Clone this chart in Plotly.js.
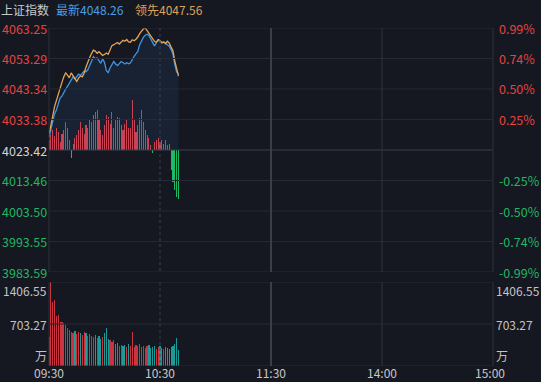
<!DOCTYPE html>
<html><head><meta charset="utf-8">
<script src="https://cdn.plot.ly/plotly-3.0.1.min.js"></script>
<style>html,body{margin:0;padding:0;background:#151821;}#c{width:541px;height:382px;}</style>
</head><body><div id="c"></div>
<script>
const prevClose = 4023.42;
const latestLabel = '最新4048.26';
const leadLabel = '领先4047.56';
const indexName = '上证指数';
const timeTicks = [0, 60, 120, 180, 240];
const timeLabels = ['09:30', '10:30', '11:30', '14:00', '15:00'];
const priceTicks = [4063.25, 4053.29, 4043.34, 4033.38, 4023.42, 4013.46, 4003.50, 3993.55, 3983.59];
const pctLabels = ['0.99%', '0.74%', '0.50%', '0.25%', '', '-0.25%', '-0.50%', '-0.74%', '-0.99%'];
const volTicks = [1406.55, 703.27, 0];
const volLabels = ['1406.55', '703.27', '万'];

const latest = [4027.5,4029.9,4032.5,4035.2,4036.5,4038.9,4040.4,4041.0,4042.3,4043.3,
4044.2,4045.3,4046.5,4047.3,4046.6,4047.5,4048.2,4047.8,4048.6,4049.2,
4049.0,4049.6,4051.0,4052.6,4053.9,4053.2,4053.5,4052.6,4051.7,4053.2,
4052.0,4049.3,4048.7,4050.2,4051.5,4052.3,4051.5,4051.0,4051.6,4052.3,
4052.0,4051.5,4051.9,4051.6,4051.8,4053.0,4054.0,4054.8,4055.6,4057.8,
4059.2,4060.2,4060.9,4061.2,4060.8,4059.6,4058.8,4057.4,4058.4,4059.3,
4058.9,4058.5,4058.7,4058.2,4057.8,4057.3,4056.2,4054.8,4051.3,4048.9,4048.26];

const lead = [4028.5,4031.0,4034.5,4037.6,4039.8,4041.8,4044.0,4045.5,4047.3,4048.6,
4047.9,4047.0,4048.6,4047.6,4046.5,4045.8,4046.9,4047.6,4047.3,4048.5,
4050.5,4052.4,4053.6,4054.9,4056.0,4055.7,4055.0,4055.5,4054.8,4054.3,
4054.6,4055.1,4054.7,4056.0,4057.5,4057.8,4058.1,4058.5,4058.0,4058.6,
4059.2,4058.9,4059.5,4058.7,4058.6,4059.4,4059.1,4059.6,4060.3,4061.4,
4062.2,4062.9,4063.3,4062.4,4061.7,4060.6,4059.9,4058.9,4058.6,4059.5,
4059.2,4058.4,4058.7,4058.2,4058.9,4058.3,4057.0,4055.8,4052.4,4049.6,4047.56];

const breadth = [10,15,20,14,22,18,8,16,20,28,
22,10,-8,6,12,15,20,28,22,16,
25,22,30,28,35,38,40,30,20,15,
25,35,33,26,38,22,30,33,32,25,
20,26,30,22,22,50,30,18,25,32,
40,28,20,15,12,5,-3,8,10,12,
8,10,6,10,5,6,-20,-32,-40,-47,-49];

const volume = [485,1406.55,1071,1105,837,854,737,737,720,686,
636,603,569,552,586,536,569,552,519,569,
552,502,536,502,485,519,469,502,452,485,
552,636,452,435,402,435,368,385,335,352,
335,352,318,368,335,569,318,352,335,368,
318,335,301,335,352,301,318,335,285,318,
335,301,285,318,301,285,318,335,368,469,268];

const minutes = latest.map((_, i) => i);
const base = latest.map(() => prevClose);
const breadthColors = breadth.map(v => v >= 0 ? 'rgba(232,74,92,0.85)' : '#1fb866');
const volColors = volume.map((_, i) => {
  const p = i === 0 ? prevClose : latest[i - 1];
  return latest[i] >= p ? '#c8343f' : '#1b9a98';
});

const traces = [
  {x: minutes, y: breadth, type: 'bar', xaxis: 'x', yaxis: 'y3', marker: {color: breadthColors, line: {width: 0}}, width: 0.6, hoverinfo: 'skip'},
  {x: minutes, y: base, type: 'scatter', mode: 'lines', line: {width: 0}, xaxis: 'x', yaxis: 'y', hoverinfo: 'skip'},
  {x: minutes, y: latest, type: 'scatter', mode: 'lines', fill: 'tonexty', fillcolor: 'rgba(45,100,160,0.14)', line: {color: '#3f95e0', width: 1.3}, xaxis: 'x', yaxis: 'y'},
  {x: minutes, y: lead, type: 'scatter', mode: 'lines', line: {color: '#e2a457', width: 1.3}, xaxis: 'x', yaxis: 'y'},
  {x: minutes, y: volume, type: 'bar', xaxis: 'x2', yaxis: 'y2', marker: {color: volColors, line: {width: 0}}, width: 0.65}
];

const W = 541, H = 382;
const px = v => v / W, py = v => 1 - v / H;
const gridC = '#262a36';
const upTop = 28, upBot = 272, loTop = 282, loBot = 366;

const shapes = [];
priceTicks.forEach((p, i) => {
  shapes.push({type: 'line', xref: 'paper', yref: 'y', x0: px(49), x1: px(493), y0: p, y1: p,
    line: {color: i === 4 ? '#3a3f4c' : gridC, width: 1}});
});
volTicks.forEach(v => {
  shapes.push({type: 'line', xref: 'paper', yref: 'y2', x0: px(49), x1: px(493), y0: v, y1: v, line: {color: gridC, width: 1}});
});
[[upTop, upBot], [loTop, loBot]].forEach(([a, b]) => {
  shapes.push({type: 'line', xref: 'paper', yref: 'paper', x0: px(49), x1: px(49), y0: py(a), y1: py(b), line: {color: '#2c303c', width: 1}});
  shapes.push({type: 'line', xref: 'paper', yref: 'paper', x0: px(493), x1: px(493), y0: py(a), y1: py(b), line: {color: '#2c303c', width: 1}});
  timeTicks.slice(1, 4).forEach((t, k) => {
    shapes.push({type: 'line', xref: 'x', yref: 'paper', x0: t, x1: t, y0: py(a), y1: py(b),
      line: {color: k === 0 ? '#3b404d' : (k === 1 ? '#3a3e4a' : '#2e323e'), width: k === 1 ? 2 : 1, dash: k === 0 ? 'dot' : 'solid'}});
  });
});

const annotations = [];
const F = '"Noto Sans CJK SC", "Liberation Sans", sans-serif';
priceTicks.forEach((p, i) => {
  const col = i < 4 ? '#e8413f' : (i === 4 ? '#d4d4d4' : '#22b562');
  annotations.push({xref: 'paper', yref: 'y', x: px(47.5), y: p, text: p.toFixed(2), showarrow: false, borderpad: 0,
    xanchor: 'right', yanchor: 'middle', yshift: i === 0 ? -1 : 0, font: {family: F, size: 12.5, color: col}});
  if (pctLabels[i]) annotations.push({xref: 'paper', yref: 'y', x: px(498), y: p, text: pctLabels[i], showarrow: false, borderpad: 0,
    xanchor: 'left', yanchor: 'middle', yshift: i === 0 ? -1 : 0, font: {family: F, size: 12.5, color: col}});
});
volTicks.forEach((v, i) => {
  const ya = i === 0 ? 'top' : (i === 2 ? 'bottom' : 'middle');
  [[px(47.5), 'right'], [px(495), 'left']].forEach(([xx, xa]) => {
    annotations.push({xref: 'paper', yref: 'y2', x: xx, y: v, text: volLabels[i], showarrow: false, borderpad: 0,
      xanchor: xa, yanchor: ya, yshift: i === 0 ? 1 : (i === 2 ? 1 : 0), font: {family: F, size: 12, color: '#c4c4c4'}});
  });
});
timeTicks.forEach((t, i) => {
  annotations.push({xref: 'x2', yref: 'paper', x: t, y: 0, text: timeLabels[i], showarrow: false, borderpad: 0,
    xanchor: i === 4 ? 'right' : 'center', xshift: i === 4 ? 13 : 0, yanchor: 'bottom', font: {family: F, size: 12, color: '#c8c8c8'}});
});
const hdr = [[0, indexName, '#c9c9c9'], [55, latestLabel, '#4b9de3'], [134, leadLabel, '#d9a35e']];
hdr.forEach(([x0, t, c]) => {
  annotations.push({xref: 'paper', yref: 'paper', x: px(x0), y: 1, text: t, showarrow: false, borderpad: 0,
    xanchor: 'left', yanchor: 'top', font: {family: F, size: 12, color: c}});
});

const layout = {
  width: W, height: H, margin: {l: 0, r: 0, t: 0, b: 0},
  paper_bgcolor: '#151821', plot_bgcolor: '#151821',
  showlegend: false, bargap: 0,
  xaxis: {domain: [px(49), px(493)], range: [0, 240], visible: false, fixedrange: true},
  yaxis: {domain: [py(upBot), py(upTop)], range: [priceTicks[8], priceTicks[0]], visible: false},
  yaxis3: {overlaying: 'y', range: [-122, 122], visible: false},
  xaxis2: {domain: [px(49), px(493)], range: [0, 240], anchor: 'y2', visible: false},
  yaxis2: {domain: [py(loBot), py(loTop)], range: [0, 1406.55], visible: false},
  shapes: shapes, annotations: annotations
};
Plotly.newPlot('c', traces, layout, {staticPlot: true});
</script></body></html>
